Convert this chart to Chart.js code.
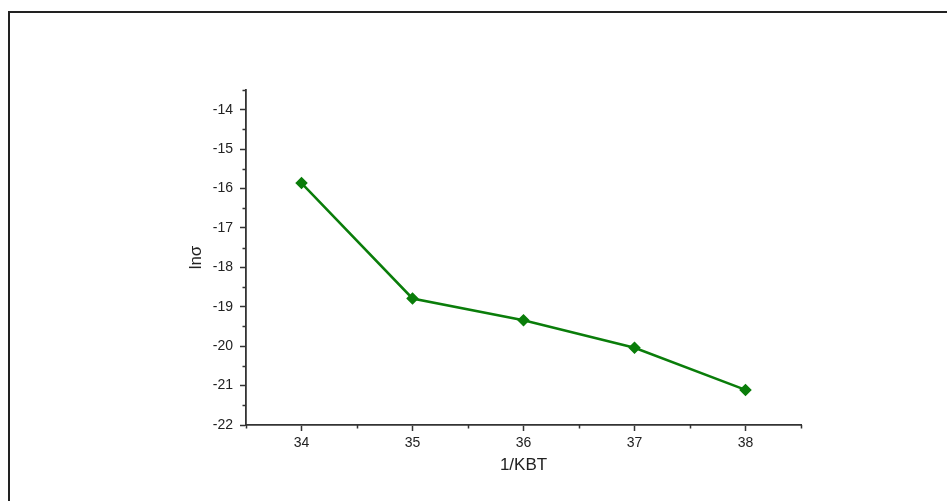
<!DOCTYPE html>
<html>
<head>
<meta charset="utf-8">
<script src="https://cdn.jsdelivr.net/npm/chart.js@4/dist/chart.umd.min.js"></script>
<style>
  html, body { margin: 0; padding: 0; background: #fff; }
  #wrap { position: relative; width: 947px; height: 501px; overflow: hidden; }
  #frame {
    position: absolute; left: 8px; top: 11px; width: 960px; height: 520px;
    border-left: 2px solid #222; border-top: 2px solid #222; box-sizing: border-box;
  }
  canvas { position: absolute; left: 0; top: 0; }
</style>
</head>
<body>
<div id="wrap">
  <div id="frame"></div>
  <canvas id="c" width="947" height="501"></canvas>
</div>
<script>
// 1/KBT values and the matching ln(sigma) readings
const invKBT = [34, 35, 36, 37, 38];
const lnSigma = [-15.86, -18.79, -19.34, -20.04, -21.11];

// axis ranges and labelled ticks
const xRange = [33.5, 38.5];
const yRange = [-22, -13.5];
const xTicks = [34, 35, 36, 37, 38];
const yTicks = [-22, -21, -20, -19, -18, -17, -16, -15, -14];
const xTitle = '1/KBT';
const yTitle = 'lnσ';

const axisColor = '#333';
const lineColor = '#0a7d0a';
const fontFamily = 'Arial, "Liberation Sans", Helvetica, sans-serif';

// short unlabeled ticks at the half steps
const minorTicks = {
  id: 'minorTicks',
  afterDraw(chart) {
    const { ctx } = chart;
    const xs = chart.scales.x, ys = chart.scales.y;
    ctx.save();
    ctx.strokeStyle = axisColor;
    ctx.lineWidth = 1.5;
    ctx.beginPath();
    for (let v = xRange[0]; v <= xRange[1] + 1e-9; v += 0.5) {
      if (Number.isInteger(v)) continue;
      const px = Math.round(xs.getPixelForValue(v)) + 0.5;
      ctx.moveTo(px, ys.bottom);
      ctx.lineTo(px, ys.bottom + 3.5);
    }
    for (let v = yRange[0]; v <= yRange[1] + 1e-9; v += 0.5) {
      if (Number.isInteger(v)) continue;
      const py = Math.round(ys.getPixelForValue(v)) + 0.5;
      ctx.moveTo(xs.left, py);
      ctx.lineTo(xs.left - 3.5, py);
    }
    ctx.stroke();
    ctx.restore();
  }
};

const useTicks = values => scale => {
  scale.ticks = values.map(value => ({ value }));
};

new Chart(document.getElementById('c'), {
  type: 'scatter',
  data: {
    datasets: [{
      data: invKBT.map((x, i) => ({ x, y: lnSigma[i] })),
      showLine: true,
      borderColor: lineColor,
      backgroundColor: lineColor,
      borderWidth: 2.5,
      pointStyle: 'rectRot',
      pointRadius: 4.5,
      pointHoverRadius: 4.5,
      tension: 0
    }]
  },
  options: {
    responsive: false,
    animation: false,
    layout: { padding: { left: 186, right: 146, top: 90, bottom: 16 } },
    plugins: { legend: { display: false }, tooltip: { enabled: false } },
    scales: {
      x: {
        type: 'linear',
        min: xRange[0], max: xRange[1],
        afterBuildTicks: useTicks(xTicks),
        afterFit(s) { s.height = 60; },
        border: { display: true, color: axisColor, width: 1.8 },
        grid: { drawOnChartArea: false, drawTicks: true, tickLength: 6, tickColor: axisColor, tickWidth: 1.5 },
        ticks: { color: '#222', padding: 4, font: { family: fontFamily, size: 14 } },
        title: { display: true, text: xTitle, color: '#222', padding: { top: 0, bottom: 9 }, font: { family: fontFamily, size: 17 } }
      },
      y: {
        type: 'linear',
        min: yRange[0], max: yRange[1],
        afterBuildTicks: useTicks(yTicks),
        afterFit(s) { s.width = 60; },
        border: { display: true, color: axisColor, width: 1.8 },
        grid: { drawOnChartArea: false, drawTicks: true, tickLength: 6, tickColor: axisColor, tickWidth: 1.5 },
        ticks: { color: '#222', padding: 7, font: { family: fontFamily, size: 14 } },
        title: { display: true, text: yTitle, color: '#222', padding: { top: 0, bottom: 0 }, font: { family: fontFamily, size: 17 } }
      }
    }
  },
  plugins: [minorTicks]
});
</script>
</body>
</html>
